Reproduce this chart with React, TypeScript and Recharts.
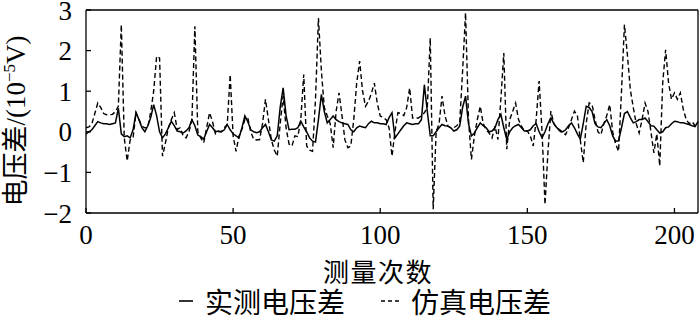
import React from 'react';
import { LineChart, Line, XAxis, YAxis, Legend, ReferenceLine } from 'recharts';

const SERIF = "'Liberation Serif', 'Times New Roman', Times, 'DejaVu Serif', serif";
const MIXED = "'Liberation Serif', 'DejaVu Serif', 'Noto Sans CJK SC', serif";
const CJK = "'Noto Sans CJK SC', sans-serif";

const xTicks = [0, 50, 100, 150, 200];
const yTicks = [-2, -1, 0, 1, 2, 3];

// 实测电压差 (solid), index = measurement number 0..208
const measured = [
  -0.05, 0.0, 0.05, 0.15, 0.25, 0.22, 0.2, 0.2, 0.18, 0.2,
  0.22, 0.58, -0.05, -0.12, -0.1, -0.15, 0.05, 0.47, 0.3, 0.1,
  0.0, 0.15, 0.35, 0.67, 0.4, 0.0, -0.15, -0.05, 0.1, 0.26,
  0.15, 0.02, 0.0, -0.03, 0.02, 0.1, 0.3, 0.15, -0.08, -0.12,
  -0.18, 0.0, 0.18, 0.1, 0.0, 0.02, 0.0, 0.05, 0.18, 0.05,
  -0.05, -0.1, -0.15, 0.1, 0.39, 0.25, 0.05, 0.0, -0.02, 0.0,
  0.1, 0.18, 0.0, -0.2, -0.23, -0.1, 0.6, 1.08, 0.4, 0.05,
  0.06, 0.06, 0.1, 0.26, 0.12, 0.0, -0.15, -0.23, -0.25, 0.3,
  0.92, 0.5, 0.22, 0.3, 0.39, 0.3, 0.25, 0.22, 0.2, 0.18,
  0.05, 0.0, 0.1, 0.14, 0.12, 0.1, 0.2, 0.26, 0.22, 0.22,
  0.2, 0.2, 0.18, 0.35, 0.47, -0.15, -0.05, 0.05, 0.15, 0.22,
  0.2, 0.18, 0.2, 0.2, 0.3, 1.16, 0.5, -0.1, -0.1, 0.0,
  0.1, 0.18, 0.15, 0.14, 0.1, 0.02, 0.05, 0.14, 0.6, 0.88,
  0.2, -0.1, -0.03, 0.1, 0.22, 0.15, 0.1, 0.0, 0.02, 0.1,
  0.3, 0.43, 0.1, -0.19, 0.0, 0.1, 0.15, 0.18, 0.1, 0.02,
  0.02, 0.05, 0.15, 0.2, 0.0, -0.15, 0.0, 0.2, 0.34, 0.2,
  0.1, 0.05, 0.0, 0.05, 0.15, 0.22, 0.1, -0.05, -0.18, 0.2,
  0.63, 0.6, 0.5, 0.2, 0.12, 0.1, 0.2, 0.3, 0.15, -0.1,
  -0.23, -0.22, 0.1, 0.45, 0.5, 0.35, 0.22, 0.25, 0.3, 0.3,
  0.34, 0.25, 0.15, 0.14, 0.05, -0.03, 0.0, 0.1, 0.12, 0.2,
  0.26, 0.25, 0.22, 0.22, 0.2, 0.18, 0.15, 0.13, 0.25,
];

// 仿真电压差 (dashed)
const simulated = [
  0.1, 0.12, 0.2, 0.45, 0.71, 0.6, 0.45, 0.42, 0.42, 0.43,
  0.5, 0.63, 2.64, -0.15, -0.72, -0.2, -0.15, 0.47, 0.3, 0.14,
  0.1, 0.1, 0.5, 1.0, 1.86, 1.82, -0.6, -0.27, 0.1, 0.3,
  0.47, 0.06, 0.1, -0.1, -0.15, 0.0, 0.3, 2.6, 0.0, -0.15,
  -0.27, 0.1, 0.47, 0.25, -0.05, 0.0, 0.0, 0.1, 0.18, 1.41,
  -0.1, -0.48, -0.1, 0.06, 0.3, 0.34, 0.0, -0.19, -0.2, -0.19,
  0.2, 0.8, 0.3, -0.2, -0.45, -0.6, 0.2, 0.88, 0.1, -0.3,
  -0.35, -0.1, -0.12, 0.3, 1.41, -0.35, -0.45, -0.48, 0.8, 2.8,
  1.5, 0.6, 0.39, 0.2, -0.39, 0.5, 0.96, 0.4, -0.2, -0.39,
  -0.35, 0.3, 1.2, 1.74, 1.0, 0.63, 0.75, 0.95, 1.2, 0.7,
  0.39, 0.35, 0.3, 0.1, -0.6, 0.0, 0.47, 0.45, 0.4, 0.6,
  1.08, 0.34, 0.34, 0.34, 0.4, 0.47, 0.6, 2.31, -1.91, 0.0,
  0.2, 0.88, 0.4, 0.14, 0.1, 0.1, 0.15, 0.22, 1.5, 2.93,
  0.3, -0.68, -0.1, 0.3, 0.63, 0.2, 0.05, -0.03, -0.15, 0.14,
  -0.19, 0.8, 1.94, -0.43, 0.3, 0.5, 0.71, 0.3, 0.14, 0.02,
  0.02, -0.1, -0.35, 0.3, 1.25, 0.0, -1.79, -0.5, 0.51, 0.2,
  0.1, 0.02, -0.03, -0.07, 0.1, 0.3, 0.51, 0.4, -0.2, -0.76,
  0.2, 0.71, 0.67, 0.3, 0.0, -0.07, 0.2, 0.4, 0.67, 0.0,
  -0.3, -0.48, 1.0, 2.64, 1.9, 1.04, 0.6, 0.2, -0.03, 0.3,
  0.71, 0.5, 0.0, -0.52, -0.05, -0.84, 1.2, 2.02, 1.2, 0.8,
  0.96, 0.8, 0.96, 0.55, 0.3, 0.2, 0.25, 0.15, 0.25,
];

const data = measured.map((v, i) => ({ n: i, measured: v, simulated: simulated[i] }));

const fmtY = (v: number) => (v < 0 ? `\u2212${-v}` : `${v}`);

// rotated y-axis title with superscript exponent
const YTitle = () => (
  <text
    transform="translate(25, 121) rotate(-90)"
    textAnchor="middle"
    fontFamily={MIXED}
    fontSize={27}
    fill="#000"
  >
    电压差/(10
    <tspan dy={-10} fontSize={17}>{'\u22125'}</tspan>
    <tspan dy={10}>V)</tspan>
  </text>
);

const XTitle = () => (
  <text x={378} y={282} textAnchor="middle" fontFamily={CJK} fontSize={26} letterSpacing={1.5} fill="#000">
    测量次数
  </text>
);

const LegendContent = () => (
  <div
    style={{
      height: 34,
      boxSizing: 'border-box',
      paddingBottom: 12,
      paddingLeft: 32,
      display: 'flex',
      justifyContent: 'center',
      alignItems: 'center',
      fontFamily: CJK,
      fontSize: 28,
      lineHeight: '28px',
      color: '#000',
    }}
  >
    <svg width={14} height={10} style={{ marginRight: 12 }}>
      <line x1={0} y1={5} x2={14} y2={5} stroke="#000" strokeWidth={1.6} />
    </svg>
    <span>实测电压差</span>
    <svg width={20} height={10} style={{ marginLeft: 36, marginRight: 10 }}>
      <line x1={0} y1={5} x2={20} y2={5} stroke="#000" strokeWidth={1.4} strokeDasharray="4 3" />
    </svg>
    <span>仿真电压差</span>
  </div>
);

export default function App() {
  return (
    <div style={{ position: 'absolute', left: 0, top: 0, width: 700, height: 324, background: '#fff' }}>
      <LineChart width={700} height={324} data={data} margin={{ top: 10, right: 2, bottom: 0, left: 0 }}>
        <XAxis
          dataKey="n"
          type="number"
          domain={[0, 208]}
          ticks={xTicks}
          interval={0}
          height={77}
          tickSize={-5}
          tickMargin={17}
          axisLine={{ stroke: '#000', strokeWidth: 1.3 }}
          tickLine={{ stroke: '#000', strokeWidth: 1.3 }}
          tick={{ fill: '#000', fontSize: 27, fontFamily: SERIF }}
          label={<XTitle />}
        />
        <YAxis
          type="number"
          domain={[-2, 3]}
          ticks={yTicks}
          interval={0}
          width={86}
          tickSize={-5}
          tickMargin={19}
          tickFormatter={fmtY}
          axisLine={{ stroke: '#000', strokeWidth: 1.3 }}
          tickLine={{ stroke: '#000', strokeWidth: 1.3 }}
          tick={{ fill: '#000', fontSize: 27, fontFamily: SERIF }}
          label={<YTitle />}
        />
        <ReferenceLine y={3} stroke="#000" strokeWidth={1.3} />
        <ReferenceLine x={208} stroke="#000" strokeWidth={1.3} />
        <Line
          type="linear"
          dataKey="simulated"
          name="仿真电压差"
          stroke="#000"
          strokeWidth={1.4}
          strokeDasharray="5 3"
          dot={false}
          isAnimationActive={false}
        />
        <Line
          type="linear"
          dataKey="measured"
          name="实测电压差"
          stroke="#000"
          strokeWidth={1.5}
          dot={false}
          isAnimationActive={false}
        />
        <Legend verticalAlign="bottom" content={<LegendContent />} />
      </LineChart>
    </div>
  );
}
